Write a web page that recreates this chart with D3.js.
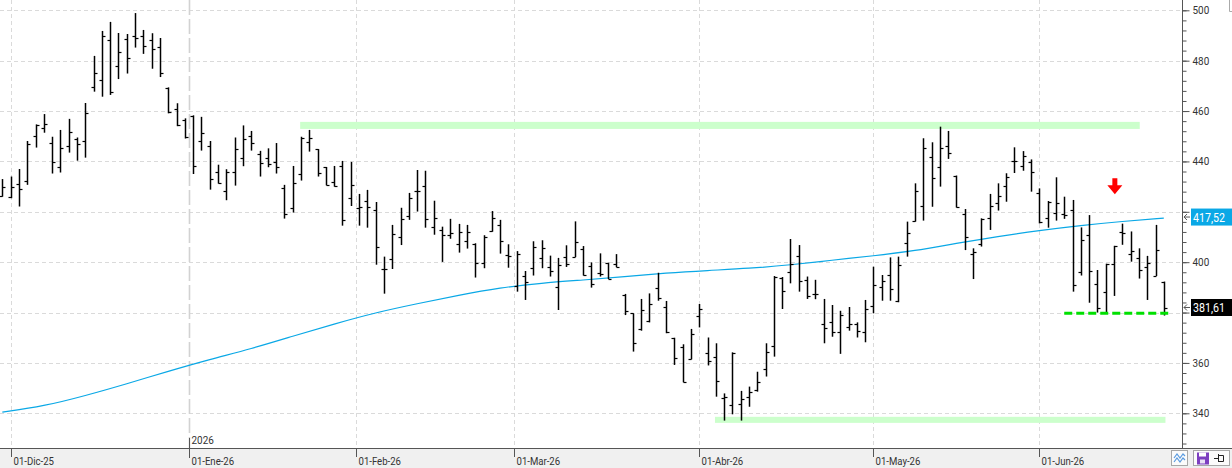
<!DOCTYPE html>
<html><head><meta charset="utf-8">
<script src="https://cdn.jsdelivr.net/npm/d3@7"></script>
<style>html,body{margin:0;padding:0;background:#fff;overflow:hidden}svg{display:block}</style>
</head><body>
<script>
// ---------- DATA ----------
const opens  = [426.4,426.0,430.9,432.2,450.0,453.3,447.2,437.7,446.1,448.8,448.0,469.4,472.2,488.1,477.8,488.5,489.7,489.7,488.1,485.3,
469.2,460.8,456.5,458.0,448.1,446.0,435.7,428.1,435.7,441.2,450.0,442.8,441.2,439.7,429.3,421.4,434.9,447.6,444.9,437.7,
432.0,438.2,425.4,421.5,424.3,420.7,397.2,401.1,410.0,418.3,428.3,430.2,414.0,412.8,410.8,407.2,408.5,407.2,399.6,412.2,
414.8,402.7,390.4,394.7,397.6,401.7,398.0,390.0,402.0,402.0,405.1,398.6,395.8,399.5,399.3,387.0,379.7,373.3,376.6,389.6,
382.3,369.8,366.2,361.6,378.6,364.0,362.4,346.2,343.3,343.7,346.3,349.3,357.6,366.7,393.6,396.0,402.5,393.0,387.4,375.3,
376.1,372.2,374.1,375.3,372.2,382.6,390.0,394.9,384.7,407.5,416.3,422.3,441.6,437.7,446.1,434.4,419.1,403.1,407.2,417.6,
423.6,430.2,440.3,438.2,439.6,427.3,417.7,419.4,419.1,420.7,396.0,410.7,391.3,388.0,399.2,411.9,403.4,401.5,398.0,394.5,392.0];
const highs  = [433.0,434.0,437.0,448.1,454.7,458.8,449.8,452.5,456.9,449.5,463.2,481.9,491.8,495.4,491.0,490.6,498.9,492.2,490.9,489.0,
469.4,463.1,457.1,458.3,457.7,448.1,438.7,436.9,449.5,454.3,452.1,444.2,445.2,447.3,430.7,438.2,449.8,452.5,444.9,437.8,
438.2,440.2,439.8,427.1,428.7,423.9,402.2,414.8,421.6,427.5,436.6,436.3,424.4,414.1,417.2,415.2,414.8,407.5,410.7,420.3,
416.8,407.1,404.4,396.5,408.3,408.7,402.6,401.7,406.7,416.2,406.4,399.9,403.5,399.8,403.2,387.4,379.7,385.4,387.6,395.8,
384.6,370.0,367.4,373.5,383.4,370.1,367.8,347.9,364.2,348.9,350.6,356.5,367.8,394.5,394.1,409.2,406.8,394.3,393.0,385.4,
383.0,380.7,382.2,376.1,385.0,398.2,394.9,401.9,402.2,416.1,431.3,449.2,447.6,453.8,452.1,434.4,421.1,405.5,417.4,427.1,
431.3,435.3,445.6,444.1,440.8,429.3,424.3,433.7,426.0,424.7,413.8,418.7,396.9,399.4,406.5,415.3,412.2,405.5,402.5,414.8,392.3];
const lows   = [426.0,425.4,422.1,430.7,445.5,451.4,435.2,435.6,443.5,440.3,441.5,467.7,465.7,466.4,472.7,474.9,485.2,482.7,476.8,473.5,
459.1,454.0,449.1,435.0,444.3,428.8,431.2,424.6,430.4,438.1,444.3,434.0,437.7,435.2,417.3,419.7,432.4,443.9,434.0,430.5,
430.0,414.5,422.3,414.5,413.7,399.0,387.5,397.3,406.8,416.8,420.1,413.7,410.9,400.1,409.3,403.8,405.4,393.9,397.6,412.1,
403.4,397.8,388.3,385.0,394.7,397.6,394.3,381.0,398.1,402.0,394.7,389.9,394.3,393.3,398.0,379.0,364.5,372.8,376.1,384.7,
371.8,359.2,352.3,361.4,374.1,359.0,346.6,337.1,339.6,337.1,342.6,348.6,354.6,362.5,381.4,391.6,388.3,385.4,385.3,367.8,
370.4,363.6,372.8,370.1,368.2,379.7,384.7,384.7,384.1,402.2,416.1,416.5,422.0,430.0,441.0,421.7,404.8,393.3,406.2,412.8,
420.5,424.0,435.4,436.3,428.0,415.4,413.7,416.5,417.2,388.3,394.7,383.9,380.0,379.7,386.6,406.9,400.2,393.5,385.0,394.5,378.8];
const closes = [430.0,430.0,428.9,446.8,454.5,454.7,439.7,445.2,451.6,446.8,459.1,475.1,489.7,467.4,483.3,480.9,488.9,485.7,484.5,475.0,
459.5,454.3,449.6,438.2,451.4,432.9,431.5,435.7,444.8,448.9,447.2,439.3,438.9,437.7,419.0,431.3,449.3,449.3,435.4,430.8,
430.4,416.6,430.5,421.8,421.8,406.0,397.2,411.1,417.2,425.4,428.3,417.2,417.4,410.8,411.6,412.0,411.9,399.5,410.1,417.4,
408.3,402.5,403.3,392.3,406.0,405.5,396.6,398.9,399.3,407.9,394.8,391.3,395.4,393.3,398.1,380.6,367.8,381.0,383.4,385.9,
372.2,362.0,352.6,371.6,381.4,360.8,352.8,346.3,364.0,345.6,348.6,352.4,364.5,394.3,388.7,399.2,392.5,386.6,387.4,373.7,
372.2,379.0,375.4,372.6,381.4,391.0,392.7,389.2,398.9,411.7,428.3,445.5,433.3,445.2,443.5,422.0,410.1,404.2,417.2,422.2,
426.1,433.7,440.3,442.2,435.7,415.8,424.0,423.6,418.7,391.0,408.8,396.4,381.8,399.3,406.4,411.5,404.6,396.9,399.5,404.8,381.61];

// 200-session moving average, read at every 5th session
const maIndex  = [0,5,10,15,20,25,30,35,40,45,50,55,60,65,70,75,80,85,90,95,100,105,110,115,120,125,130,135,140];
const maValues = [340.5,342.8,347.0,351.7,356.7,361.4,365.6,370.6,375.5,380.0,383.5,386.9,389.9,391.7,392.9,394.2,395.7,396.7,397.5,398.9,400.8,402.5,404.5,407.5,410.2,412.6,414.6,416.2,417.52];

// x-axis: month labels and the session index where each month starts
const monthLabels = ["01-Dic-25","01-Ene-26","01-Feb-26","01-Mar-26","01-Abr-26","01-May-26","01-Jun-26"];
const monthIndex  = [1, 22.5, 42.67, 61.67, 84, 105, 125];
const yearLabel = "2026";
const yearIndex = 22.5;

// y-axis tick labels (gridlines at all; labels hidden where a value box covers them)
const yTickValues = [340,360,380,400,420,440,460,480,500];
const yMinorTicks = d3.range(328, 501, 4);

// drawn levels
const resistanceBand = {from: 35.9, to: 137.1, low: 452.9, high: 455.7};
const supportBand    = {from: 85.9, to: 140.2, low: 336.2, high: 338.6};
const supportLine    = {from: 128.0, to: 140.6, value: 379.7};
const arrowSignal    = {index: 134.1, value: 427.0};

// ---------- CHART ----------
const W = 1232, H = 468;
const plotRight = 1182, plotBottom = 448;
const blue = "#0aa8e6";
const txt = "#333333";
const font = "Roboto, 'Noto Sans', sans-serif";

const svg = d3.select("body").append("svg").attr("width", W).attr("height", H);

const x = d3.scaleLinear().domain([0, 140]).range([2.33, 1163.8]);
const y = d3.scaleLinear().domain([340, 500]).range([413.3, 10.3]);

// bottom strip
svg.append("rect").attr("x", 0).attr("y", plotBottom).attr("width", W).attr("height", H - plotBottom).attr("fill", "#f0f0f0");

const plot = svg.append("g");
plot.append("clipPath").attr("id", "clip").append("rect").attr("x", 0).attr("y", 0).attr("width", plotRight).attr("height", plotBottom);

// horizontal grid
plot.selectAll("line.hg").data(yTickValues).enter().append("line")
  .attr("x1", 0).attr("x2", plotRight)
  .attr("y1", d => Math.round(y(d)) + 0.5).attr("y2", d => Math.round(y(d)) + 0.5)
  .attr("stroke", "#dadada").attr("stroke-dasharray", "4,3");

// vertical grid
plot.selectAll("line.vg").data(monthIndex).enter().append("line")
  .attr("x1", d => Math.round(x(d)) + 0.5).attr("x2", d => Math.round(x(d)) + 0.5)
  .attr("y1", 0).attr("y2", plotBottom)
  .attr("stroke", d => d === yearIndex ? "#d2d2d2" : "#dadada")
  .attr("stroke-width", d => d === yearIndex ? 1.6 : 1)
  .attr("stroke-dasharray", d => d === yearIndex ? "15,4" : "4,3");

// green bands
[resistanceBand, supportBand].forEach(b => {
  plot.append("rect")
    .attr("x", x(b.from)).attr("width", x(b.to) - x(b.from))
    .attr("y", y(b.high)).attr("height", y(b.low) - y(b.high))
    .attr("fill", "#ccffcc");
});

// moving average
const g = plot.append("g").attr("clip-path", "url(#clip)");
const maPts = maIndex.map((d, i) => [d, maValues[i]]);
g.append("path")
  .attr("d", d3.line().x(d => x(d[0])).y(d => y(d[1])).curve(d3.curveBasis)(maPts))
  .attr("fill", "none").attr("stroke", blue).attr("stroke-width", 1.2);

// OHLC bars
const bars = g.append("g").attr("stroke", "#000");
opens.forEach((o, i) => {
  const xc = Math.round(x(i)) + 0.5;
  bars.append("line").attr("x1", xc).attr("x2", xc)
    .attr("y1", y(highs[i]) ).attr("y2", y(lows[i]))
    .attr("stroke-width", 1.5);
  const yo = Math.round(y(o)) + 0.5, yc = Math.round(y(closes[i])) + 0.5;
  bars.append("line").attr("x1", xc - 3).attr("x2", xc).attr("y1", yo).attr("y2", yo).attr("stroke-width", 1.2);
  bars.append("line").attr("x1", xc).attr("x2", xc + 3).attr("y1", yc).attr("y2", yc).attr("stroke-width", 1.2);
});

// green dashed support
g.append("line")
  .attr("x1", x(supportLine.from)).attr("x2", x(supportLine.to))
  .attr("y1", y(supportLine.value)).attr("y2", y(supportLine.value))
  .attr("stroke", "#00e000").attr("stroke-width", 3).attr("stroke-dasharray", "8,4");

// red arrow
{
  const ax = x(arrowSignal.index), ay = y(arrowSignal.value);
  g.append("path")
    .attr("d", `M${ax-2.5},${ay-16} L${ax+2.5},${ay-16} L${ax+2.5},${ay-9} L${ax+7.5},${ay-9} L${ax},${ay} L${ax-7.5},${ay-9} L${ax-2.5},${ay-9} Z`)
    .attr("fill", "#ff0000");
}

// ---------- axes ----------
function squeeze(sel, f) {
  sel.each(function() {
    const len = this.getComputedTextLength();
    d3.select(this).attr("textLength", len * f).attr("lengthAdjust", "spacingAndGlyphs");
  });
}

// x axis line
svg.append("line").attr("x1", 0).attr("x2", W).attr("y1", plotBottom + 0.5).attr("y2", plotBottom + 0.5)
  .attr("stroke", "#555").attr("stroke-width", 1);
// y axis line
svg.append("line").attr("x1", plotRight + 0.5).attr("x2", plotRight + 0.5).attr("y1", 0).attr("y2", plotBottom)
  .attr("stroke", "#555").attr("stroke-width", 1);

// value labels (computed first so covered tick labels can be skipped)
const lastMA = maValues[maValues.length - 1];
const lastClose = closes[closes.length - 1];
const covered = v => Math.abs(y(v) - y(lastMA)) < 12 || Math.abs(y(v) - y(lastClose)) < 12;

// y axis (right)
const yAxisMinor = d3.axisRight(y).tickValues(yMinorTicks).tickSize(4).tickFormat("");
const yAxisMajor = d3.axisRight(y).tickValues(yTickValues).tickSize(7).tickPadding(3)
  .tickFormat(d => covered(d) ? "" : d3.format("d")(d));
const gMinor = svg.append("g").attr("transform", `translate(${plotRight + 0.5},0)`).call(yAxisMinor);
const gMajor = svg.append("g").attr("transform", `translate(${plotRight + 0.5},0)`).call(yAxisMajor);
[gMinor, gMajor].forEach(a => {
  a.select(".domain").remove();
  a.selectAll(".tick line").attr("stroke", "#555");
});
gMajor.selectAll(".tick text").filter(function() { return this.textContent === ""; }).remove();
gMajor.selectAll(".tick text").attr("fill", txt).attr("font-family", font).attr("font-size", 11).attr("x", 10).call(squeeze, 0.9);

// x axis month ticks + labels
const xt = svg.append("g");
monthIndex.forEach((d, i) => {
  const xx = Math.round(x(d)) + 0.5;
  xt.append("line").attr("x1", xx).attr("x2", xx).attr("y1", plotBottom).attr("y2", plotBottom + 9).attr("stroke", "#555");
  xt.append("text").attr("x", xx + 2).attr("y", 465).text(monthLabels[i])
    .attr("fill", txt).attr("font-family", font).attr("font-size", 11).call(squeeze, 0.87);
});
{
  const xx = Math.round(x(yearIndex)) + 0.5;
  xt.append("line").attr("x1", xx).attr("x2", xx).attr("y1", plotBottom - 10).attr("y2", plotBottom + 10).attr("stroke", "#555");
  xt.append("text").attr("x", xx + 2).attr("y", 444).text(yearLabel)
    .attr("fill", txt).attr("font-family", font).attr("font-size", 11).call(squeeze, 0.9);
}

const fmt = d3.formatLocale({decimal: ",", thousands: ".", grouping: [3], currency: ["", "€"]}).format(".2f");
function valueLabel(v, bg) {
  const yy = y(v) - 1;
  svg.append("rect").attr("x", 1191).attr("y", yy - 8.5).attr("width", 41).attr("height", 17).attr("fill", bg);
  svg.append("text").attr("x", 1193).attr("y", yy + 4.8).text(fmt(v))
    .attr("fill", "#fff").attr("font-family", font).attr("font-size", 13)
    .attr("textLength", 32).attr("lengthAdjust", "spacingAndGlyphs");
  svg.append("path").attr("d", `M${plotRight + 8},${yy} L${plotRight + 2},${yy} M${plotRight + 5},${yy - 3} L${plotRight + 2},${yy} L${plotRight + 5},${yy + 3}`)
    .attr("stroke", "#555").attr("fill", "none").attr("stroke-width", 1);
}
valueLabel(lastMA, blue);
valueLabel(lastClose, "#000");

// top-right corner box
svg.append("path").attr("d", "M1229.5,0 L1229.5,11.5 L1232,11.5").attr("stroke", "#aaa").attr("fill", "none");

// bottom-right icons
svg.append("rect").attr("x", 1171.5).attr("y", 450.5).attr("width", 16).attr("height", 15).attr("fill", "#fbfbfb").attr("stroke", "#a8a8a8");
svg.append("polyline").attr("points", "1174,458 1177,454 1180,458 1183,454 1185,456").attr("fill", "none").attr("stroke", "#5a9be0").attr("stroke-width", 1.2);
svg.append("polyline").attr("points", "1174,462 1177,458 1180,462 1183,458 1185,460").attr("fill", "none").attr("stroke", "#5a9be0").attr("stroke-width", 1.2);
svg.append("rect").attr("x", 1193.5).attr("y", 450.5).attr("width", 36).attr("height", 15).attr("fill", "#fbfbfb").attr("stroke", "#a8a8a8");
svg.append("rect").attr("x", 1197).attr("y", 452.5).attr("width", 12).attr("height", 12).attr("fill", "#7d3fc0");
svg.append("rect").attr("x", 1199).attr("y", 452.5).attr("width", 7).attr("height", 4).attr("fill", "#fff");
svg.append("rect").attr("x", 1200).attr("y", 459.5).attr("width", 5).attr("height", 4).attr("fill", "#e8e0f4");
svg.append("path").attr("d", "M1214,458.5 L1218,458.5 M1218.5,454 L1218.5,462 M1218.5,455.5 L1223.5,455.5 L1223.5,461.5 L1218.5,461.5")
  .attr("stroke", "#222").attr("fill", "none");
</script>
</body></html>
